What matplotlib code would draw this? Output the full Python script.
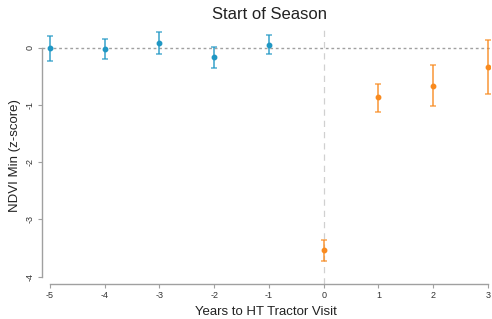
import numpy as np
import matplotlib.pyplot as plt

plt.rcParams['font.family'] = ['Liberation Sans', 'DejaVu Sans']

# === Data ===
years_pre = [-5, -4, -3, -2, -1]
coef_pre = [-0.01, -0.03, 0.08, -0.17, 0.05]
lo_pre = [-0.24, -0.20, -0.11, -0.36, -0.12]
hi_pre = [0.21, 0.15, 0.27, 0.01, 0.22]

years_post = [0, 1, 2, 3]
coef_post = [-3.54, -0.87, -0.67, -0.34]
lo_post = [-3.72, -1.12, -1.02, -0.81]
hi_post = [-3.36, -0.63, -0.31, 0.13]

x_ticks = [-5, -4, -3, -2, -1, 0, 1, 2, 3]
y_ticks = [0, -1, -2, -3, -4]

blue = "#1f97c4"
orange = "#f98a1e"
grey = "#a0a0a0"

fig = plt.figure(figsize=(4.92, 3.19), dpi=100)
ax = fig.add_axes([0.0854, 0.1097, 0.9106, 0.8023])

# reference lines
ax.axhline(0, color=grey, lw=1.0, ls=(0, (2, 2)), zorder=1)
ax.axvline(0, color="#d0d0d0", lw=0.9, ls=(0, (5, 4)), zorder=1)

def draw(x, c, lo, hi, col):
    c = np.array(c)
    err = [c - np.array(lo), np.array(hi) - c]
    ax.errorbar(x, c, yerr=err, fmt="none", ecolor=col, alpha=0.7,
                elinewidth=1.4, capsize=2.5, capthick=1.2, zorder=2)
    ax.plot(x, c, "o", color=col, ms=3.2, zorder=3)

draw(years_pre, coef_pre, lo_pre, hi_pre, blue)
draw(years_post, coef_post, lo_post, hi_post, orange)

ax.set_xlim(-5.146, 3.04)
ax.set_ylim(-4.13, 0.34)
ax.set_xticks(x_ticks)
ax.set_yticks(y_ticks)
ax.set_xticklabels([str(v) for v in x_ticks], fontsize=6.5)
ax.set_yticklabels([str(v) for v in y_ticks], fontsize=6.5, rotation=90, va="center")

for s in ["top", "right"]:
    ax.spines[s].set_visible(False)
ax.spines["left"].set_bounds(-4, 0)
ax.spines["bottom"].set_bounds(-5, 3)
for s in ["left", "bottom"]:
    ax.spines[s].set_color(grey)
    ax.spines[s].set_linewidth(1.0)
ax.tick_params(axis="both", color=grey, length=3, width=0.8, labelcolor="#333333", pad=2)

ax.set_xlabel("Years to HT Tractor Visit", fontsize=9.5, color="#222222", labelpad=4)
ax.set_ylabel("NDVI Min (z-score)", fontsize=9.5, color="#222222", labelpad=4)
fig.text(0.548, 0.953, "Start of Season", ha="center", va="center", fontsize=12, color="#222222")

fig.savefig("out.png", dpi=100)
